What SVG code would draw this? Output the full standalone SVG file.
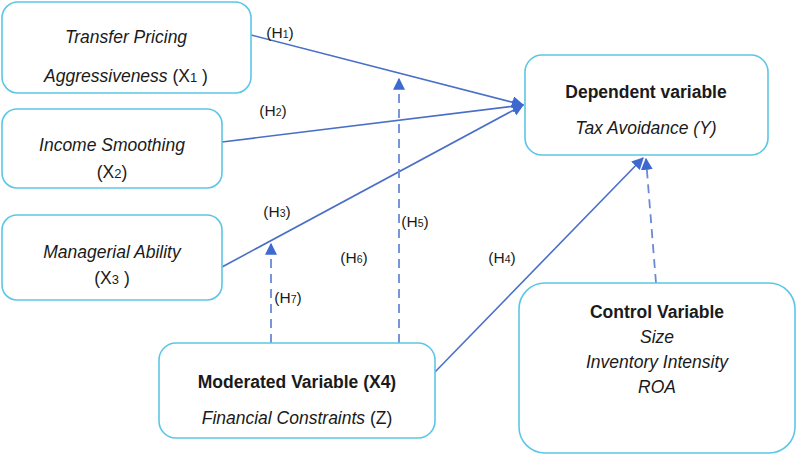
<svg xmlns="http://www.w3.org/2000/svg" width="797" height="458" viewBox="0 0 797 458">
<defs>
<style>
.box{fill:#fff;stroke:#5cc6e6;stroke-width:1.6}
.t{font-family:"Liberation Sans",Arial,sans-serif;font-size:17.5px;fill:#1a1a1a;text-anchor:middle}
.i{font-style:italic}
.b{font-weight:bold}
.h{font-family:"Liberation Sans",Arial,sans-serif;font-size:15.5px;fill:#1a1a1a;text-anchor:middle}
.s{font-size:10.5px}
.ln{stroke:#4a6fc9;stroke-width:1.6;fill:none}
.ds{stroke:#6a8ad6;stroke-width:1.8;fill:none;stroke-dasharray:9 6}
</style>
<marker id="ah" viewBox="0 0 10 10" refX="9" refY="5" markerWidth="12" markerHeight="12" markerUnits="userSpaceOnUse" orient="auto">
<path d="M0,0 L10,5 L0,10 z" fill="#3e69d0"/>
</marker>
</defs>
<rect width="797" height="458" fill="#fff"/>
<g id="connectors">
<line class="ln" x1="251" y1="35" x2="523" y2="105" marker-end="url(#ah)"/>
<line class="ln" x1="222" y1="142" x2="523" y2="105" marker-end="url(#ah)"/>
<line class="ln" x1="222" y1="267" x2="523" y2="105" marker-end="url(#ah)"/>
<line class="ln" x1="435" y1="372" x2="643" y2="158" marker-end="url(#ah)"/>
<line class="ds" x1="399" y1="343" x2="399" y2="79" marker-end="url(#ah)"/>
<line class="ds" x1="271" y1="343" x2="271" y2="244" marker-end="url(#ah)"/>
<line class="ds" x1="656" y1="283" x2="646" y2="159" marker-end="url(#ah)"/>
<text class="h" x="280" y="38">(H<tspan class="s">1</tspan>)</text>
<text class="h" x="273" y="116">(H<tspan class="s">2</tspan>)</text>
<text class="h" x="277" y="217">(H<tspan class="s">3</tspan>)</text>
<text class="h" x="415" y="227">(H<tspan class="s">5</tspan>)</text>
<text class="h" x="354" y="263">(H<tspan class="s">6</tspan>)</text>
<text class="h" x="502" y="263">(H<tspan class="s">4</tspan>)</text>
<text class="h" x="288" y="303">(H<tspan class="s">7</tspan>)</text>
</g>
<g id="x1">
<rect class="box" x="2" y="2" width="249" height="91" rx="16"/>
<text class="t i" x="126" y="43">Transfer Pricing</text>
<text class="t" x="126" y="82"><tspan class="i">Aggressiveness</tspan> (X<tspan font-size="13">1</tspan> )</text>
</g>
<g id="x2">
<rect class="box" x="2" y="109" width="220" height="79" rx="15"/>
<text class="t i" x="112" y="151">Income Smoothing</text>
<text class="t" x="112" y="178">(X<tspan font-size="13">2</tspan>)</text>
</g>
<g id="x3">
<rect class="box" x="2" y="215" width="220" height="85" rx="15"/>
<text class="t i" x="112" y="258">Managerial Ability</text>
<text class="t" x="112" y="284">(X<tspan font-size="13">3</tspan> )</text>
</g>
<g id="y">
<rect class="box" x="525" y="55" width="243" height="100" rx="17"/>
<text class="t b" x="646" y="98">Dependent variable</text>
<text class="t i" x="646" y="134">Tax Avoidance (Y)</text>
</g>
<g id="z">
<rect class="box" x="159" y="343" width="276" height="95" rx="17"/>
<text class="t b" x="297" y="388">Moderated Variable (X4)</text>
<text class="t" x="297" y="424"><tspan class="i">Financial Constraints</tspan> (Z)</text>
</g>
<g id="control">
<rect class="box" x="519" y="283" width="276" height="170" rx="26"/>
<text class="t b" x="657" y="318">Control Variable</text>
<text class="t i" x="657" y="343">Size</text>
<text class="t i" x="657" y="368">Inventory Intensity</text>
<text class="t i" x="657" y="393">ROA</text>
</g>
</svg>
